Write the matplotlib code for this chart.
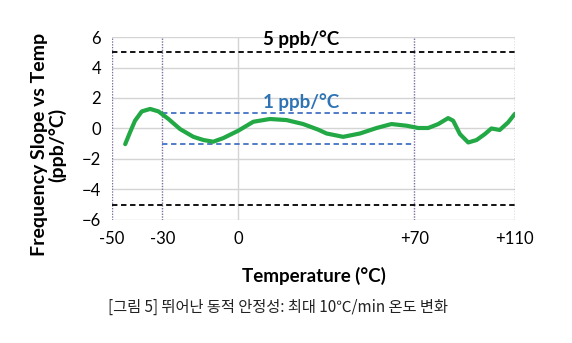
import numpy as np
import matplotlib.pyplot as plt

plt.rcParams['font.family'] = ['Lato', 'DejaVu Sans']

# green curve: temperature (°C) vs frequency slope (ppb/°C)
temp = [-44.8, -42.9, -40.9, -38.2, -34.9, -31.6, -27.6, -23.0, -17.7, -13.7, -9.8,
        -5.8, 0.1, 6.1, 12.7, 19.3, 25.9, 31.9, 35.2, 41.8, 48.5, 55.1, 61.0, 67.0,
        71.6, 75.6, 79.6, 83.5, 85.5, 88.2, 91.5, 94.8, 98.1, 100.7, 104.0, 107.3, 110.0]
slope = [-1.03, -0.26, 0.51, 1.12, 1.28, 1.12, 0.62, -0.04, -0.55, -0.76, -0.87,
         -0.63, -0.15, 0.44, 0.62, 0.55, 0.29, -0.08, -0.33, -0.55, -0.33, 0.03, 0.29, 0.18,
         0.03, 0.03, 0.29, 0.68, 0.51, -0.37, -0.92, -0.76, -0.37, 0.0, -0.1, 0.39, 0.95]

xticks = [-50, -30, 0, 70, 110]
xtick_labels = ["-50", "-30", "0", "+70", "+110"]
yticks = [-6, -4, -2, 0, 2, 4, 6]
limit_outer = 5
limit_inner = 1
inner_range = [-30, 70]

fig = plt.figure(figsize=(5.72, 3.43), dpi=100)
ax = fig.add_axes([0.196, 0.359, 0.704, 0.533])

for y in yticks:
    ax.axhline(y, color="#d4d4d4", lw=1, zorder=0)
ax.axvline(0, color="#d4d4d4", lw=1, zorder=0)
for x in [-50, -30, 70, 110]:
    ax.axvline(x, color="#7b6f9e", lw=1, ls=(0, (1, 1)), zorder=1)

ax.axhline(limit_outer, color="black", lw=1.3, ls=(0, (3, 2)), zorder=2)
ax.axhline(-limit_outer, color="black", lw=1.3, ls=(0, (3, 2)), zorder=2)
ax.plot(inner_range, [limit_inner, limit_inner], color="#4472c4", lw=1.3, ls=(0, (3, 2)), zorder=2)
ax.plot(inner_range, [-limit_inner, -limit_inner], color="#4472c4", lw=1.3, ls=(0, (3, 2)), zorder=2)

ax.plot(temp, slope, color="#22a845", lw=3, solid_joinstyle="round", solid_capstyle="round", zorder=3)

ax.text(25, 5.3, "5 ppb/°C", ha="center", va="bottom", fontsize=13.5, fontweight="bold", color="black")
ax.text(25, 1.15, "1 ppb/°C", ha="center", va="bottom", fontsize=13.5, fontweight="bold", color="#2e74b5")

ax.set_xlim(-50, 110)
ax.set_ylim(-6, 6)
ax.set_xticks(xticks)
ax.set_xticklabels(xtick_labels)
ax.set_yticks(yticks)
ax.tick_params(length=0, labelsize=12, pad=8)
for s in ax.spines.values():
    s.set_visible(False)

ax.set_xlabel("Temperature (°C)", fontsize=13.5, fontweight="bold", labelpad=14)
ax.set_ylabel("Frequency Slope vs Temp\n(ppb/°C)", fontsize=14, fontweight="bold",
              linespacing=1.0)
ax.yaxis.set_label_coords(-0.115, 0.41)

fig.text(0.189, 0.09, "[그림 5] 뛰어난 동적 안정성: 최대 10℃/min 온도 변화",
         fontsize=11, family=["Noto Sans CJK KR", "DejaVu Sans"], color="#222222")

fig.savefig("out.png", dpi=100)
